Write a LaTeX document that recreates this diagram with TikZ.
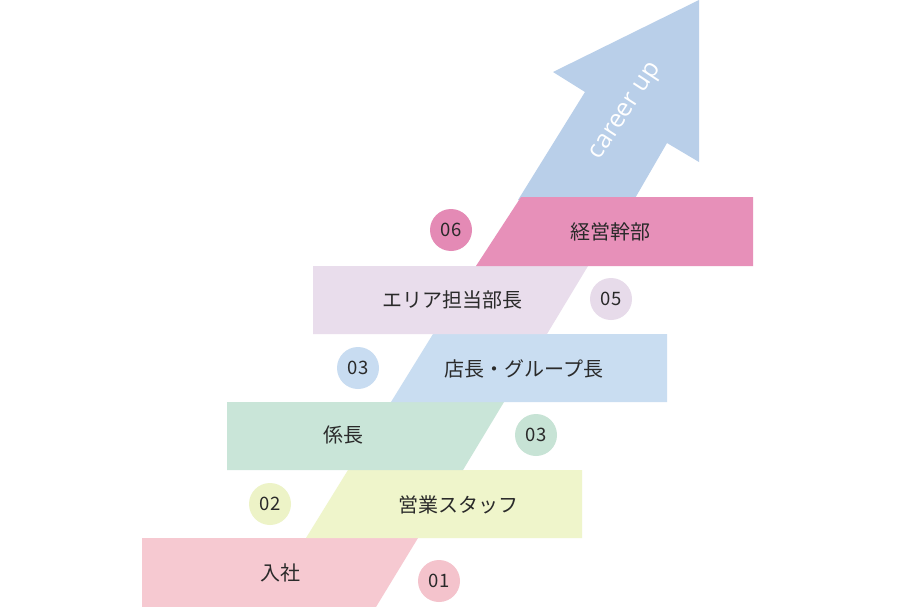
\documentclass[tikz,border=0pt]{standalone}
\usepackage{fontspec}
\newfontfamily\jp{Noto Sans CJK JP}
\newfontfamily\lat{Open Sans}
\definecolor{cA}{HTML}{F6C9D1}
\definecolor{cAc}{HTML}{F4C3CC}
\definecolor{cB}{HTML}{EFF5CB}
\definecolor{cBc}{HTML}{EDF3C7}
\definecolor{cC}{HTML}{C9E5D8}
\definecolor{cCc}{HTML}{C7E3D5}
\definecolor{cD}{HTML}{C9DDF1}
\definecolor{cDc}{HTML}{C8DCF1}
\definecolor{cE}{HTML}{E9DDEC}
\definecolor{cEc}{HTML}{E7DBEA}
\definecolor{cF}{HTML}{E790B9}
\definecolor{cFc}{HTML}{E48AB5}
\definecolor{arrowc}{HTML}{B9CFE9}
\definecolor{txt}{HTML}{2A2A2A}
\begin{document}
\begin{tikzpicture}[x=1pt,y=-1pt,
  lbl/.style={font=\jp\fontsize{20}{20}\selectfont, text=txt, inner sep=0pt},
  num/.style={circle, minimum size=42pt, inner sep=0pt, font=\jp\fontsize{18.5}{18.5}\selectfont, text=txt}]
\useasboundingbox (0,0) rectangle (912,607);
\fill[white] (0,0) rectangle (912,607);
% arrow
\fill[arrowc] (699,0) -- (699,162) -- (667,143) -- (634,200) -- (518,200) -- (585,92) -- (553,72) -- cycle;
\node[lbl, font=\lat\fontsize{25}{25}\selectfont, text=white, rotate=57] (career) at (627,112) {career up};
% bands
\fill[cA] (142,538) -- (418,538) -- (376,607) -- (142,607) -- cycle;
\fill[cB] (348,470) -- (582,470) -- (582,538) -- (306,538) -- cycle;
\fill[cC] (227,402) -- (504,402) -- (463,470) -- (227,470) -- cycle;
\fill[cD] (433,334) -- (667,334) -- (667,402) -- (391,402) -- cycle;
\fill[cE] (313,266) -- (588,266) -- (547,334) -- (313,334) -- cycle;
\fill[cF] (521,197) -- (753,197) -- (753,266) -- (476,266) -- cycle;
% labels
\node[lbl] (l1) at (280,573) {入社};
\node[lbl] (l2) at (458,505) {営業スタッフ};
\node[lbl] (l3) at (343,435) {係長};
\node[lbl] (l4) at (524,369) {店長・グループ長};
\node[lbl] (l5) at (452,300) {エリア担当部長};
\node[lbl] (l6) at (610,232) {経営幹部};
% circles
\node[num, fill=cAc] (n1) at (439,581) {01};
\node[num, fill=cBc] (n2) at (270,504) {02};
\node[num, fill=cCc] (n3) at (536,435) {03};
\node[num, fill=cDc] (n4) at (358,368) {03};
\node[num, fill=cEc] (n5) at (611,299) {05};
\node[num, fill=cFc] (n6) at (451,230) {06};
\end{tikzpicture}
\end{document}
